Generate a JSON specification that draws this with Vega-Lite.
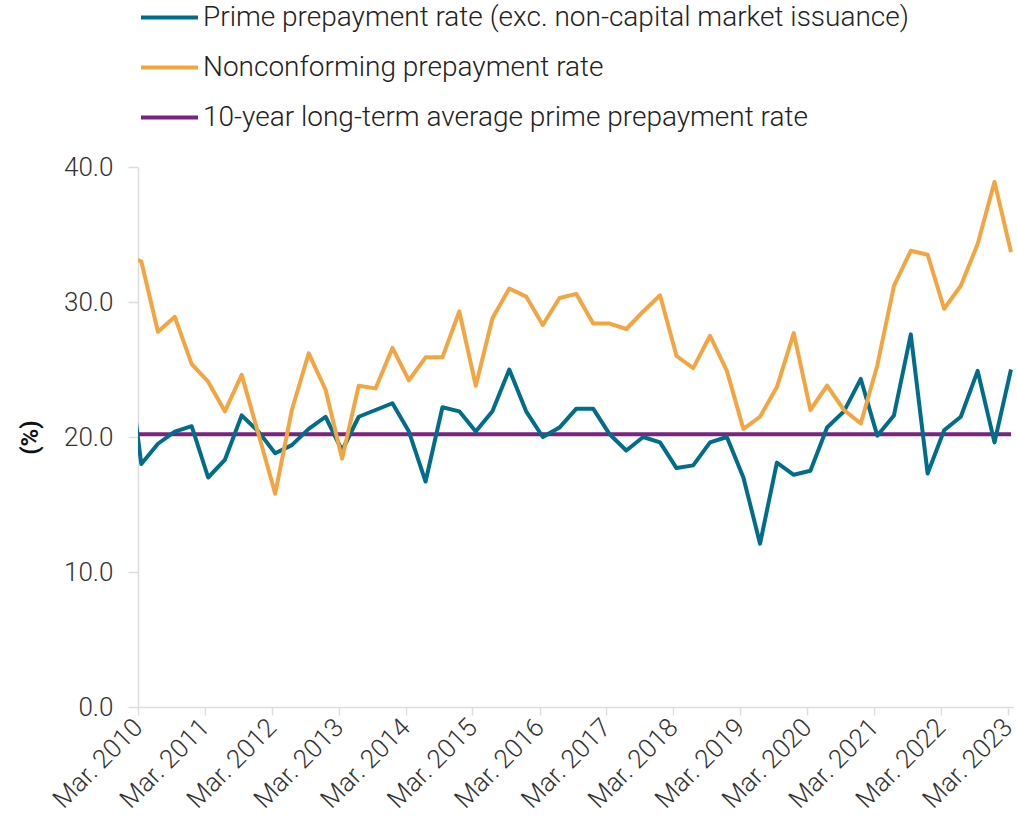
{
  "$schema": "https://vega.github.io/schema/vega-lite/v6.json",
  "width": 875,
  "height": 540,
  "autosize": {"type": "none"},
  "padding": {"left": 138, "top": 167, "right": 4, "bottom": 119},
  "background": "white",
  "config": {
    "view": {"stroke": null},
    "font": "Roboto"
  },
  "data": {
    "values": [
      {"d": "2009-12-31", "prime": 27.6, "noncon": 33.5, "avg": 20.2},
      {"d": "2010-03-31", "prime": 18.0, "noncon": 33.0, "avg": 20.2},
      {"d": "2010-06-30", "prime": 19.5, "noncon": 27.8, "avg": 20.2},
      {"d": "2010-09-30", "prime": 20.4, "noncon": 28.9, "avg": 20.2},
      {"d": "2010-12-31", "prime": 20.8, "noncon": 25.4, "avg": 20.2},
      {"d": "2011-03-31", "prime": 17.0, "noncon": 24.1, "avg": 20.2},
      {"d": "2011-06-30", "prime": 18.3, "noncon": 21.9, "avg": 20.2},
      {"d": "2011-09-30", "prime": 21.6, "noncon": 24.6, "avg": 20.2},
      {"d": "2011-12-31", "prime": 20.4, "noncon": 20.2, "avg": 20.2},
      {"d": "2012-03-31", "prime": 18.8, "noncon": 15.8, "avg": 20.2},
      {"d": "2012-06-30", "prime": 19.4, "noncon": 22.0, "avg": 20.2},
      {"d": "2012-09-30", "prime": 20.6, "noncon": 26.2, "avg": 20.2},
      {"d": "2012-12-31", "prime": 21.5, "noncon": 23.5, "avg": 20.2},
      {"d": "2013-03-31", "prime": 19.0, "noncon": 18.4, "avg": 20.2},
      {"d": "2013-06-30", "prime": 21.5, "noncon": 23.8, "avg": 20.2},
      {"d": "2013-09-30", "prime": 22.0, "noncon": 23.6, "avg": 20.2},
      {"d": "2013-12-31", "prime": 22.5, "noncon": 26.6, "avg": 20.2},
      {"d": "2014-03-31", "prime": 20.4, "noncon": 24.2, "avg": 20.2},
      {"d": "2014-06-30", "prime": 16.7, "noncon": 25.9, "avg": 20.2},
      {"d": "2014-09-30", "prime": 22.2, "noncon": 25.9, "avg": 20.2},
      {"d": "2014-12-31", "prime": 21.9, "noncon": 29.3, "avg": 20.2},
      {"d": "2015-03-31", "prime": 20.4, "noncon": 23.8, "avg": 20.2},
      {"d": "2015-06-30", "prime": 21.9, "noncon": 28.8, "avg": 20.2},
      {"d": "2015-09-30", "prime": 25.0, "noncon": 31.0, "avg": 20.2},
      {"d": "2015-12-31", "prime": 21.9, "noncon": 30.4, "avg": 20.2},
      {"d": "2016-03-31", "prime": 20.0, "noncon": 28.3, "avg": 20.2},
      {"d": "2016-06-30", "prime": 20.7, "noncon": 30.3, "avg": 20.2},
      {"d": "2016-09-30", "prime": 22.1, "noncon": 30.6, "avg": 20.2},
      {"d": "2016-12-31", "prime": 22.1, "noncon": 28.4, "avg": 20.2},
      {"d": "2017-03-31", "prime": 20.2, "noncon": 28.4, "avg": 20.2},
      {"d": "2017-06-30", "prime": 19.0, "noncon": 28.0, "avg": 20.2},
      {"d": "2017-09-30", "prime": 20.0, "noncon": 29.3, "avg": 20.2},
      {"d": "2017-12-31", "prime": 19.6, "noncon": 30.5, "avg": 20.2},
      {"d": "2018-03-31", "prime": 17.7, "noncon": 26.0, "avg": 20.2},
      {"d": "2018-06-30", "prime": 17.9, "noncon": 25.1, "avg": 20.2},
      {"d": "2018-09-30", "prime": 19.6, "noncon": 27.5, "avg": 20.2},
      {"d": "2018-12-31", "prime": 20.0, "noncon": 24.9, "avg": 20.2},
      {"d": "2019-03-31", "prime": 17.0, "noncon": 20.6, "avg": 20.2},
      {"d": "2019-06-30", "prime": 12.1, "noncon": 21.5, "avg": 20.2},
      {"d": "2019-09-30", "prime": 18.1, "noncon": 23.7, "avg": 20.2},
      {"d": "2019-12-31", "prime": 17.2, "noncon": 27.7, "avg": 20.2},
      {"d": "2020-03-31", "prime": 17.5, "noncon": 22.0, "avg": 20.2},
      {"d": "2020-06-30", "prime": 20.7, "noncon": 23.8, "avg": 20.2},
      {"d": "2020-09-30", "prime": 21.9, "noncon": 22.0, "avg": 20.2},
      {"d": "2020-12-31", "prime": 24.3, "noncon": 21.0, "avg": 20.2},
      {"d": "2021-03-31", "prime": 20.1, "noncon": 25.3, "avg": 20.2},
      {"d": "2021-06-30", "prime": 21.6, "noncon": 31.2, "avg": 20.2},
      {"d": "2021-09-30", "prime": 27.6, "noncon": 33.8, "avg": 20.2},
      {"d": "2021-12-31", "prime": 17.3, "noncon": 33.5, "avg": 20.2},
      {"d": "2022-03-31", "prime": 20.5, "noncon": 29.5, "avg": 20.2},
      {"d": "2022-06-30", "prime": 21.5, "noncon": 31.2, "avg": 20.2},
      {"d": "2022-09-30", "prime": 24.9, "noncon": 34.3, "avg": 20.2},
      {"d": "2022-12-31", "prime": 19.6, "noncon": 38.9, "avg": 20.2},
      {"d": "2023-03-31", "prime": 25.0, "noncon": 33.7, "avg": 20.2}
    ]
  },
  "transform": [
    {"fold": ["avg", "prime", "noncon"], "as": ["key", "value"]},
    {"lookup": "key", "from": {"data": {"values": [
      {"key": "prime", "series": "Prime prepayment rate (exc. non-capital market issuance)"},
      {"key": "noncon", "series": "Nonconforming prepayment rate"},
      {"key": "avg", "series": "10-year long-term average prime prepayment rate"}
    ]}, "key": "key", "fields": ["series"]}}
  ],
  "mark": {"type": "line", "strokeWidth": 4, "clip": true, "strokeJoin": "round", "strokeCap": "butt"},
  "encoding": {
    "x": {
      "field": "d",
      "type": "temporal",
      "scale": {"domain": [{"year": 2010, "month": 3, "date": 13}, {"year": 2023, "month": 4, "date": 11}]},
      "axis": {
        "title": null,
        "values": [
          {"year": 2010, "month": 3, "date": 13}, {"year": 2011, "month": 3, "date": 13},
          {"year": 2012, "month": 3, "date": 13}, {"year": 2013, "month": 3, "date": 13},
          {"year": 2014, "month": 3, "date": 13}, {"year": 2015, "month": 3, "date": 13},
          {"year": 2016, "month": 3, "date": 13}, {"year": 2017, "month": 3, "date": 13},
          {"year": 2018, "month": 3, "date": 13}, {"year": 2019, "month": 3, "date": 13},
          {"year": 2020, "month": 3, "date": 13}, {"year": 2021, "month": 3, "date": 13},
          {"year": 2022, "month": 3, "date": 13}, {"year": 2023, "month": 3, "date": 13}
        ],
        "format": "%b. %Y",
        "labelAngle": -45,
        "labelAlign": "right",
        "labelBaseline": "middle",
        "labelFontSize": 26,
        "labelFontWeight": 300,
        "labelColor": "#333333",
        "labelPadding": 8,
        "labelOverlap": false,
        "labelFlush": false,
        "grid": false,
        "domainColor": "#dddddd",
        "domainWidth": 1.5,
        "tickColor": "#dddddd",
        "tickSize": 8,
        "tickWidth": 1.5
      }
    },
    "y": {
      "field": "value",
      "type": "quantitative",
      "scale": {"domain": [0, 40], "nice": false, "zero": true},
      "axis": {
        "title": "(%)",
        "titleFontSize": 24,
        "titleFontWeight": "bold",
        "titleColor": "#111111",
        "titleX": -108,
        "titleY": 270,
        "titleAlign": "center",
        "titleBaseline": "middle",
        "titleAngle": -90,
        "values": [0, 10, 20, 30, 40],
        "format": ".1f",
        "labelFontSize": 26,
        "labelFontWeight": 300,
        "labelColor": "#333333",
        "labelPadding": 15,
        "labelFlush": false,
        "grid": false,
        "domainColor": "#dddddd",
        "domainWidth": 1.5,
        "tickColor": "#dddddd",
        "tickSize": 10,
        "tickWidth": 1.5
      }
    },
    "color": {
      "field": "series",
      "type": "nominal",
      "scale": {
        "domain": ["Prime prepayment rate (exc. non-capital market issuance)", "Nonconforming prepayment rate", "10-year long-term average prime prepayment rate"],
        "range": ["#006e8a", "#f2a541", "#7a237f"]
      },
      "legend": {
        "title": null,
        "orient": "none",
        "legendX": 1,
        "legendY": -180,
        "direction": "vertical",
        "symbolType": "stroke",
        "symbolSize": 3249,
        "symbolStrokeWidth": 4,
        "labelFontSize": 28,
        "labelFontWeight": 300,
        "labelColor": "#222222",
        "labelLimit": 0,
        "labelOffset": 3,
        "rowPadding": 5
      }
    }
  }
}
